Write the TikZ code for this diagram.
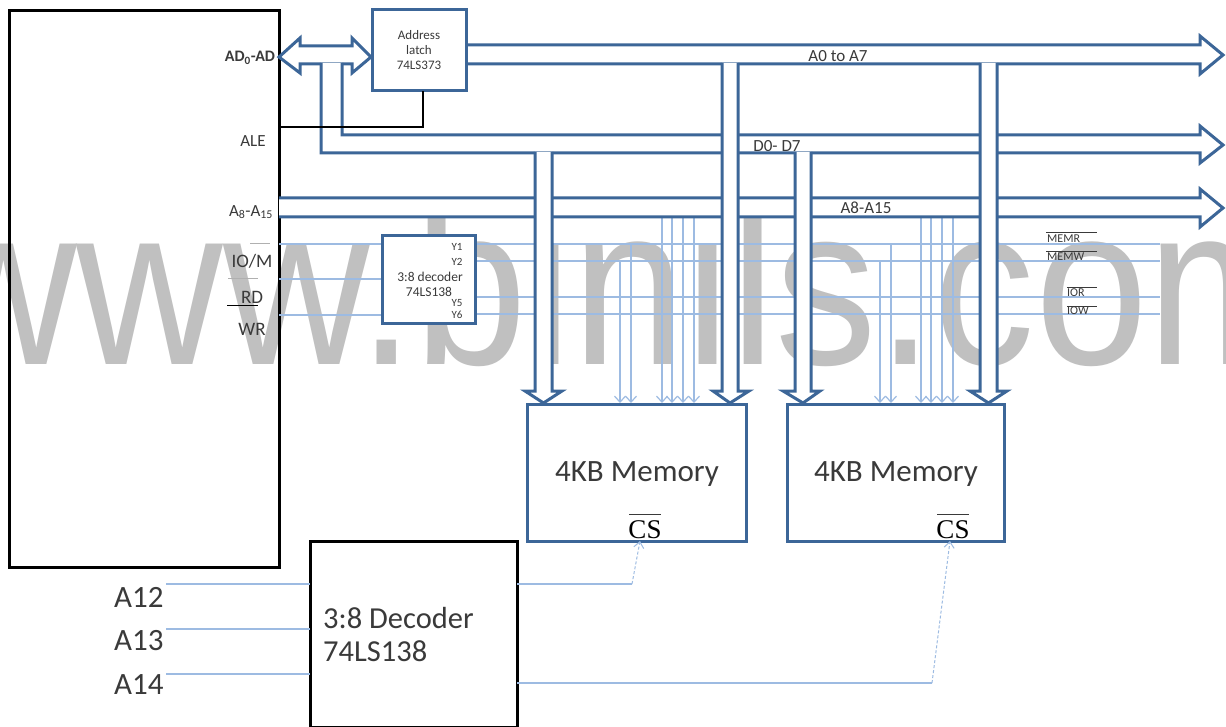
\documentclass[tikz,border=0pt]{standalone}
\usepackage{fontspec}
\setmainfont{Carlito}
\newfontfamily\wmfont{Liberation Sans}
\newfontfamily\csfont{Liberation Serif}
\usetikzlibrary{arrows.meta}
\definecolor{busblue}{HTML}{3C6698}
\definecolor{thinblue}{HTML}{9DBBE2}
\definecolor{wmgray}{HTML}{C0C0C0}
\definecolor{txt}{HTML}{3A3A3A}
\tikzset{
  x=1pt,y=-1pt,
  cpubox/.style={draw=black,line width=3pt,rectangle,inner sep=0pt,outer sep=0pt},
  bluebox/.style={draw=busblue,line width=3pt,rectangle,inner sep=0pt,outer sep=0pt,fill=white},
  bus/.style={draw=busblue,line width=3pt,fill=white,line join=miter},
  thin/.style={draw=thinblue,line width=1.2pt},
  thinarrow/.style={thin,-{Straight Barb[length=6pt,width=11pt]}},
  dasharrow/.style={draw=thinblue,line width=1pt,densely dashed,-{Straight Barb[length=6pt,width=10pt]}},
  lab/.style={inner sep=0pt,text=txt,font=\fontsize{17}{19}\selectfont},
  small/.style={inner sep=0pt,text=txt,font=\fontsize{13.5}{15}\selectfont,align=center},
  rlab/.style={inner sep=0pt,anchor=west,text=txt,font=\fontsize{12}{13}\selectfont},
  big/.style={inner sep=0pt,text=txt,font=\fontsize{31}{33}\selectfont},
  mem/.style={inner sep=0pt,text=txt,font=\fontsize{31}{33}\selectfont},
  cstext/.style={inner sep=0pt,text=black,font=\csfont\fontsize{27}{30}\selectfont},
  dectext/.style={inner sep=0pt,text=txt,font=\fontsize{30.5}{33}\selectfont,anchor=west},
  bar/.style={draw=txt,line width=1pt},
}
\begin{document}
\begin{tikzpicture}
\useasboundingbox (0,0) rectangle (1226,727);
\fill[white] (0,0) rectangle (1226,727);
% watermark
\begin{scope}
\clip (0,0) rectangle (1226,727);
\node[anchor=base west,inner sep=0pt,text=wmgray,xscale=.89,font=\wmfont\fontsize{228}{240}\selectfont] (wm) at (-70,364) {www.binils.com};
\end{scope}
% main boxes
\node[cpubox,minimum width=270pt,minimum height=556pt] (cpu) at (144,289) {};
\node[bluebox,minimum width=219pt,minimum height=137pt,fill=none] (mem1) at (636.5,472.5) {};
\node[bluebox,minimum width=217pt,minimum height=137pt,fill=none] (mem2) at (895.5,472.5) {};
\node[cpubox,minimum width=207pt,minimum height=186pt,fill=white] (dec) at (413.5,634) {};
% named ends
\coordinate (ale) at (279,127);
\coordinate (latchale) at (423,91);
\coordinate (aleb) at (423,127);
% thin lines: control signals
\foreach \n/\yy in {a/244,b/279,c/315}{\coordinate (cl\n) at (279,\yy);\coordinate (dl\n) at (382,\yy);\draw[thin] (cl\n) -- (dl\n);}
\foreach \n/\yy in {a/244,b/261,c/297,d/314}{\coordinate (dr\n) at (476,\yy);\coordinate (er\n) at (1160,\yy);\draw[thin] (dr\n) -- (er\n);}
% thin drops to memories
\foreach \n/\xx/\yy in {p/620/261,q/631/244,r/662/217,s/672/217,t/683/217,u/694/217,
                        v/880/261,w/891/244,x/921/217,y/931/217,z/942/217,o/953/217}{
  \coordinate (s\n) at (\xx,\yy);\coordinate (e\n) at (\xx,403);
  \draw[thinarrow] (s\n) -- (e\n);}
% bidirectional bus
\draw[bus] (279,57) -- (300,38) -- (300,46) -- (352,46) -- (352,38) -- (371,57) -- (352,73) -- (352,64) -- (300,64) -- (300,73) -- cycle;
% horizontal buses
\draw[bus] (466,45) -- (1200,45) -- (1200,36) -- (1223,55) -- (1200,74) -- (1200,64) -- (466,64);
\draw[bus] (342,63) -- (342,135) -- (1200,135) -- (1200,126) -- (1223,145) -- (1200,163) -- (1200,153) -- (321,153) -- (321,63);
\draw[bus] (279,198) -- (1200,198) -- (1200,189) -- (1223,208) -- (1200,227) -- (1200,217) -- (279,217);
% vertical buses
\draw[bus] (535,152) -- (535,391) -- (525,391) -- (543.5,403) -- (562,391) -- (552,391) -- (552,152);
\draw[bus] (722,63) -- (722,391) -- (713,391) -- (730,403) -- (749,391) -- (738,391) -- (738,63);
\draw[bus] (795,152) -- (795,391) -- (783,391) -- (803,403) -- (820,391) -- (811,391) -- (811,152);
\draw[bus] (980,63) -- (980,391) -- (970,391) -- (988.5,403) -- (1007,391) -- (997,391) -- (997,63);
% latch and small decoder
\node[bluebox,minimum width=94pt,minimum height=81pt,align=center,text=txt,font=\fontsize{13}{15}\selectfont] (latch) at (419,50.5) {Address\\latch\\74LS373};
\node[bluebox,minimum width=93pt,minimum height=88pt] (sdec) at (429,279.5) {};
% ALE wire
\draw[black,line width=1.6pt] (ale) -- (aleb) -- (latchale);
% small decoder text
\node[small,font=\fontsize{11}{13}\selectfont] (t1) at (457,247) {Y1};
\node[small,font=\fontsize{11}{13}\selectfont] (t2) at (457,262) {Y2};
\node[small] (t3) at (430,277) {3:8 decoder};
\node[small] (t4) at (429,292) {74LS138};
\node[small,font=\fontsize{11}{13}\selectfont] (t5) at (457,303) {Y5};
\node[small,font=\fontsize{11}{13}\selectfont] (t6) at (457,315) {Y6};
% CPU labels
\node[lab,font=\bfseries\fontsize{16}{18}\selectfont] (l1) at (250,58) {AD\textsubscript{0}-AD};
\node[lab] (l2) at (253,141) {ALE};
\node[lab] (l3) at (251,212) {A\textsubscript{8}-A\textsubscript{15}};
\node[lab,font=\fontsize{19}{21}\selectfont] (l4) at (252,261) {IO/M};
\node[lab,font=\fontsize{19}{21}\selectfont] (l5) at (252,297) {RD};
\node[lab,font=\fontsize{19}{21}\selectfont] (l6) at (252,329) {WR};
\coordinate (b1a) at (250,244);\coordinate (b1b) at (270,244);
\coordinate (b2a) at (228,279);\coordinate (b2b) at (258,279);
\coordinate (b3a) at (227,306);\coordinate (b3b) at (258,306);
\draw[bar,txt!40] (b1a) -- (b1b);
\draw[bar,txt!40] (b2a) -- (b2b);
\draw[bar,black] (b3a) -- (b3b);
% bus labels
\node[lab] (n1) at (838,56) {A0 to A7};
\node[lab] (n2) at (777,146) {D0- D7};
\node[lab] (n3) at (866,208) {A8-A15};
% right labels
\node[rlab] (r1t) at (1047,239) {MEMR};
\node[rlab] (r2t) at (1047,257) {MEMW};
\node[rlab] (r3t) at (1067,293) {IOR};
\node[rlab] (r4t) at (1067,311) {IOW};
\foreach \n/\xs/\yy in {a/1046/233,b/1046/252,c/1067/288,d/1067/307}{
  \coordinate (rb\n) at (\xs,\yy);\coordinate (re\n) at (1097,\yy);\draw[bar] (rb\n) -- (re\n);}
% memory labels
\node[mem] (m1) at (637,474) {4KB Memory};
\node[mem] (m2) at (896,474) {4KB Memory};
\node[cstext] (cs1) at (645,530) {CS};
\node[cstext] (cs2) at (953,530) {CS};
\coordinate (o1a) at (629,514);\coordinate (o1b) at (661,514);
\coordinate (o2a) at (937,514);\coordinate (o2b) at (969,514);
\draw[bar] (o1a) -- (o1b);
\draw[bar] (o2a) -- (o2b);
% large decoder
\node[dectext] (d1) at (323,618) {3:8 Decoder};
\node[dectext] (d2) at (323,651) {74LS138};
% address inputs
\node[big,anchor=west] (a12) at (114,597) {A12};
\node[big,anchor=west] (a13) at (114,641) {A13};
\node[big,anchor=west] (a14) at (114,685) {A14};
\foreach \n/\yy in {a/584,b/629,c/674}{\coordinate (in\n) at (166,\yy);\coordinate (de\n) at (310,\yy);\draw[thin] (in\n) -- (de\n);}
% decoder outputs
\coordinate (o1) at (517,584);\coordinate (k1) at (632,584);\coordinate (t1e) at (640,541);
\coordinate (o2) at (517,683);\coordinate (k2) at (932,683);\coordinate (t2e) at (950,541);
\draw[thin] (o1) -- (k1);
\draw[dasharrow] (k1) -- (t1e);
\draw[thin] (o2) -- (k2);
\draw[dasharrow] (k2) -- (t2e);
\end{tikzpicture}
\end{document}
